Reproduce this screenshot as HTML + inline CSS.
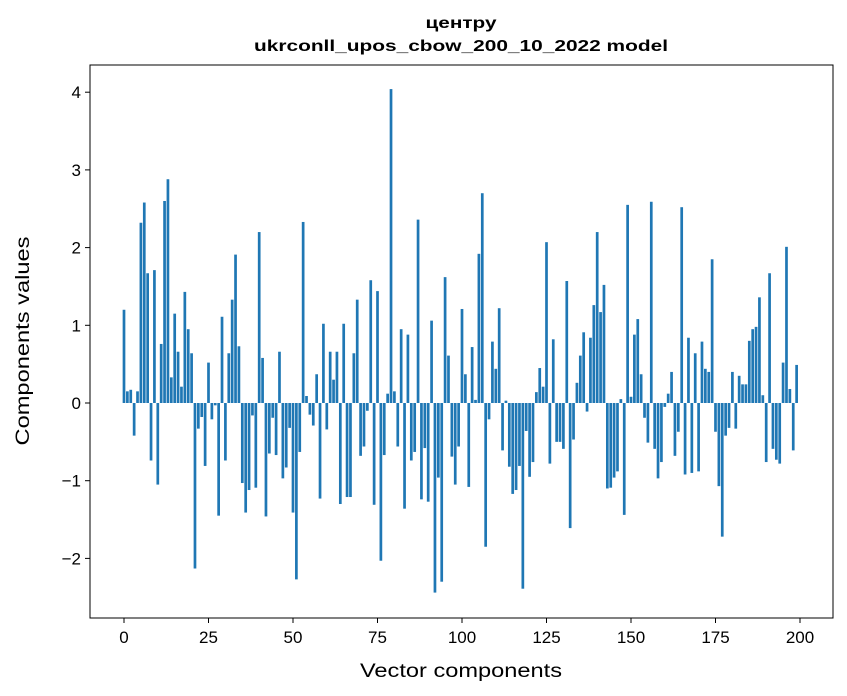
<!DOCTYPE html>
<html><head><meta charset="utf-8">
<style>
html,body{margin:0;padding:0;background:#fff;}
svg{display:block;font-family:"Liberation Sans","DejaVu Sans",sans-serif;}
</style></head>
<body>
<svg id="chart" width="847" height="696" xmlns="http://www.w3.org/2000/svg">
<text x="461" y="28" text-anchor="middle" font-size="16" font-weight="bold" textLength="71" lengthAdjust="spacingAndGlyphs">центру</text>
<text x="461" y="51" text-anchor="middle" font-size="16" font-weight="bold" textLength="414" lengthAdjust="spacingAndGlyphs">ukrconll_upos_cbow_200_10_2022 model</text>
<g id="bars"></g>
<g id="axes"></g>
<rect x="90" y="65" width="743" height="553" fill="none" stroke="#000" stroke-width="1"/>
<text x="461" y="677" text-anchor="middle" font-size="19" textLength="202" lengthAdjust="spacingAndGlyphs">Vector components</text>
<text transform="translate(29,341) rotate(-90)" text-anchor="middle" font-size="19" textLength="209" lengthAdjust="spacingAndGlyphs">Components values</text>
</svg>
<script>
const values = [1.20,0.15,0.17,-0.42,0.15,2.32,2.58,1.67,-0.74,1.71,-1.05,0.76,2.60,2.88,0.33,1.15,0.66,0.21,1.43,0.95,0.64,-2.13,-0.33,-0.18,-0.81,
0.52,-0.21,-0.03,-1.45,1.11,-0.74,0.64,1.33,1.91,0.73,-1.03,-1.41,-1.12,-0.16,-1.09,2.20,0.58,-1.46,-0.65,-0.19,-0.67,0.66,-0.97,-0.83,-0.32,
-1.41,-2.27,-0.63,2.33,0.09,-0.15,-0.29,0.37,-1.23,1.02,-0.34,0.66,0.30,0.66,-1.30,1.02,-1.21,-1.21,0.64,1.33,-0.68,-0.56,-0.10,1.58,-1.31,
1.44,-2.03,-0.67,0.12,4.04,0.15,-0.56,0.95,-1.36,0.88,-0.74,-0.63,2.36,-1.24,-0.58,-1.27,1.06,-2.44,-0.96,-2.30,1.62,0.61,-0.69,-1.05,-0.56,
1.21,0.37,-1.08,0.72,0.04,1.92,2.70,-1.85,-0.21,0.79,0.44,1.22,-0.61,0.03,-0.82,-1.17,-1.12,-0.81,-2.39,-0.36,-0.95,-0.76,0.14,0.45,0.21,
2.07,-0.78,0.82,-0.50,-0.50,-0.59,1.57,-1.61,-0.47,0.26,0.61,0.91,-0.11,0.84,1.26,2.20,1.17,1.52,-1.10,-1.09,-0.96,-0.88,0.05,-1.44,2.55,
0.08,0.88,1.08,0.37,-0.19,-0.51,2.59,-0.59,-0.97,-0.76,-0.05,0.12,0.40,-0.68,-0.37,2.52,-0.92,0.84,-0.90,0.64,-0.88,0.79,0.44,0.40,1.85,
-0.37,-1.07,-1.72,-0.42,-0.32,0.40,-0.33,0.35,0.24,0.24,0.80,0.95,0.98,1.36,0.10,-0.76,1.67,-0.59,-0.73,-0.78,0.52,2.01,0.18,-0.61,0.49];
const xTicks = [0,25,50,75,100,125,150,175,200];
const yTicks = [-2,-1,0,1,2,3,4];
const yTickLabels = ["\u22122","\u22121","0","1","2","3","4"];

const NS="http://www.w3.org/2000/svg";
const xs = v => 124 + v*3.38;
const ys = v => 403 - v*77.7;
const bars=document.getElementById('bars');
values.forEach((v,i)=>{
  const r=document.createElementNS(NS,'rect');
  const y0=Math.min(ys(0),ys(v)), h=Math.abs(ys(v)-ys(0));
  r.setAttribute('x',xs(i)-0.4*3.38); r.setAttribute('y',y0);
  r.setAttribute('width',0.8*3.38); r.setAttribute('height',Math.max(h,0.3));
  r.setAttribute('fill','#1f77b4');
  
  
  bars.appendChild(r);
});
const axes=document.getElementById('axes');
xTicks.forEach(t=>{
  const l=document.createElementNS(NS,'line');
  l.setAttribute('x1',xs(t));l.setAttribute('x2',xs(t));l.setAttribute('y1',618);l.setAttribute('y2',623);l.setAttribute('stroke','#000');
  
  
  axes.appendChild(l);
  const tx=document.createElementNS(NS,'text');
  tx.setAttribute('x',xs(t));tx.setAttribute('y',643);tx.setAttribute('text-anchor','middle');tx.setAttribute('font-size','17');
  tx.textContent=t;
  
  
  axes.appendChild(tx);
});
yTicks.forEach((t,i)=>{
  const l=document.createElementNS(NS,'line');
  l.setAttribute('x1',85);l.setAttribute('x2',90);l.setAttribute('y1',ys(t));l.setAttribute('y2',ys(t));l.setAttribute('stroke','#000');
  
  
  axes.appendChild(l);
  const tx=document.createElementNS(NS,'text');
  tx.setAttribute('x',81);tx.setAttribute('y',ys(t)+6);tx.setAttribute('text-anchor','end');tx.setAttribute('font-size','17');
  tx.textContent=yTickLabels[i];
  
  
  axes.appendChild(tx);
});
</script>
</body></html>
